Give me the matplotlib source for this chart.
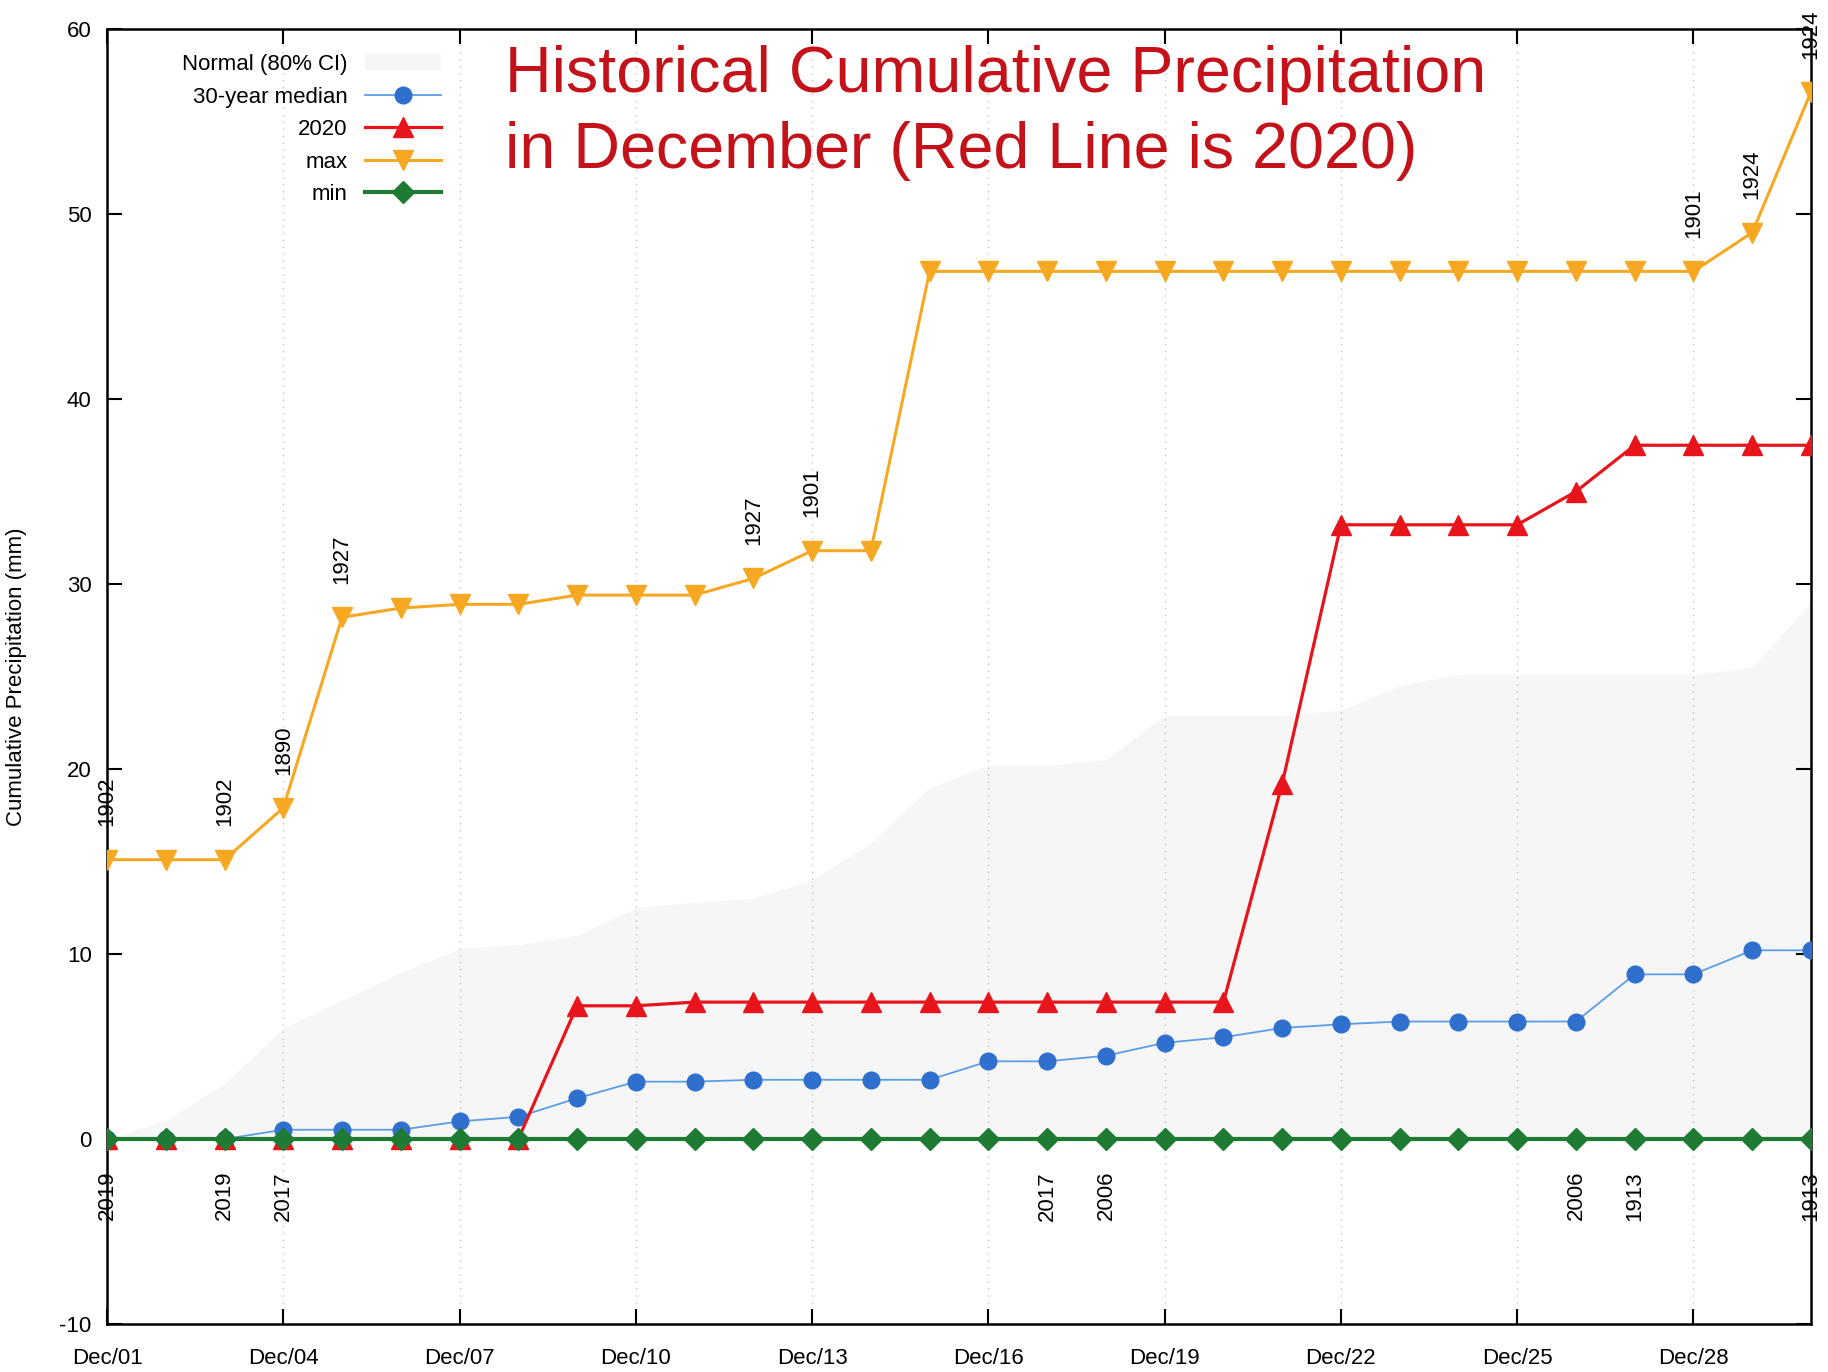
import numpy as np
import matplotlib.pyplot as plt

plt.rcParams['font.family'] = ['Liberation Sans', 'DejaVu Sans']
plt.rcParams['font.size'] = 16
plt.rcParams['axes.unicode_minus'] = False

# days of December
days = list(range(1, 31))

# cumulative precipitation (mm)
max_vals = [15.1, 15.1, 15.1, 17.9, 28.2, 28.7, 28.9, 28.9, 29.4, 29.4,
            29.4, 30.3, 31.8, 31.8, 46.9, 46.9, 46.9, 46.9, 46.9, 46.9,
            46.9, 46.9, 46.9, 46.9, 46.9, 46.9, 46.9, 46.9, 49.0, 56.6]
median_vals = [0.0, 0.0, 0.0, 0.5, 0.5, 0.5, 0.95, 1.2, 2.2, 3.1,
               3.1, 3.2, 3.2, 3.2, 3.2, 4.2, 4.2, 4.5, 5.2, 5.5,
               6.0, 6.2, 6.35, 6.35, 6.35, 6.35, 8.9, 8.9, 10.2, 10.2]
vals_2020 = [0, 0, 0, 0, 0, 0, 0, 0, 7.2, 7.2,
             7.4, 7.4, 7.4, 7.4, 7.4, 7.4, 7.4, 7.4, 7.4, 7.4,
             19.2, 33.2, 33.2, 33.2, 33.2, 35.0, 37.5, 37.5, 37.5, 37.5]
min_vals = [0.0] * 30
ci_low = [0.0] * 30
ci_high = [0, 1, 3, 6, 7.5, 9, 10.3, 10.5, 11, 12.5,
           12.8, 13, 14, 16, 19, 20.2, 20.2, 20.5, 22.9, 22.9,
           22.9, 23.2, 24.5, 25.1, 25.1, 25.1, 25.1, 25.1, 25.5, 29]

# record years written next to the max / min curves
max_label_days = [1, 3, 4, 5, 12, 13, 28, 29, 30]
max_label_years = ['1902', '1902', '1890', '1927', '1927', '1901', '1901', '1924', '1924']
min_label_days = [1, 3, 4, 17, 18, 26, 27, 30]
min_label_years = ['2019', '2019', '2017', '2017', '2006', '2006', '1913', '1913']

tick_days = [1, 4, 7, 10, 13, 16, 19, 22, 25, 28]
tick_labels = ['Dec/%02d' % d for d in tick_days]

title_lines = ['Historical Cumulative Precipitation', 'in December (Red Line is 2020)']

fig = plt.figure(figsize=(18.28, 13.72), dpi=100)
ax = fig.add_axes([107 / 1828, 1 - 1324 / 1372, 1704 / 1828, 1295 / 1372])

band = ax.fill_between(days, ci_low, ci_high, color='#f6f6f6', lw=0,
                       label='Normal (80% CI)', zorder=1)
h_max, = ax.plot(days, max_vals, color='#f7a823', lw=2.2, marker='v',
                 markersize=15, label='max', zorder=3)
h_med, = ax.plot(days, median_vals, color='#5b9ee6', lw=1.3, marker='o',
                 markersize=12, markerfacecolor='#2f6fce', markeredgecolor='#2f6fce',
                 label='30-year median', zorder=4)
h_2020, = ax.plot(days, vals_2020, color='#e8141c', lw=2.3, marker='^',
                  markersize=15, label='2020', zorder=5)
h_min, = ax.plot(days, min_vals, color='#1e7b34', lw=3, marker='D',
                 markersize=11, label='min', zorder=6)

for d, yr in zip(max_label_days, max_label_years):
    ax.annotate(yr, (d, max_vals[d - 1]), xytext=(0, 24), textcoords='offset points',
                rotation=90, ha='center', va='bottom', annotation_clip=False, zorder=7)
for d, yr in zip(min_label_days, min_label_years):
    ax.annotate(yr, (d, min_vals[d - 1]), xytext=(0, -23), textcoords='offset points',
                rotation=90, ha='center', va='top', annotation_clip=False, zorder=7)

ax.set_xlim(1, 30)
ax.set_ylim(-10, 60)
ax.set_xticks(tick_days)
ax.set_xticklabels(tick_labels)
ax.set_yticks(range(-10, 61, 10))
ax.tick_params(direction='in', length=11, width=1.5, top=True, right=True)
ax.tick_params(axis='x', pad=17)
ax.tick_params(axis='y', pad=11)
ax.grid(axis='x', color='#c4c4c4', linestyle=(0, (1, 4)), lw=1)
for s in ax.spines.values():
    s.set_linewidth(1.8)
ax.set_ylabel('Cumulative Precipitation (mm)')
ax.yaxis.set_label_coords(-0.047, 0.5)

ax.legend(handles=[band, h_med, h_2020, h_max, h_min], loc='upper right',
          bbox_to_anchor=(441 / 1828, 1 - 54 / 1372), bbox_transform=fig.transFigure,
          markerfirst=False, frameon=False, borderpad=0, borderaxespad=0,
          handlelength=3.4, handletextpad=0.8, labelspacing=0.52, fontsize=16)

fig.text(505 / 1828, 1 - 92 / 1372, title_lines[0],
         color='#c4121a', fontsize=46.5, ha='left', va='baseline')
fig.text(505 / 1828, 1 - 168 / 1372, title_lines[1],
         color='#c4121a', fontsize=46.5, ha='left', va='baseline')

fig.savefig('out.png', dpi=100)
